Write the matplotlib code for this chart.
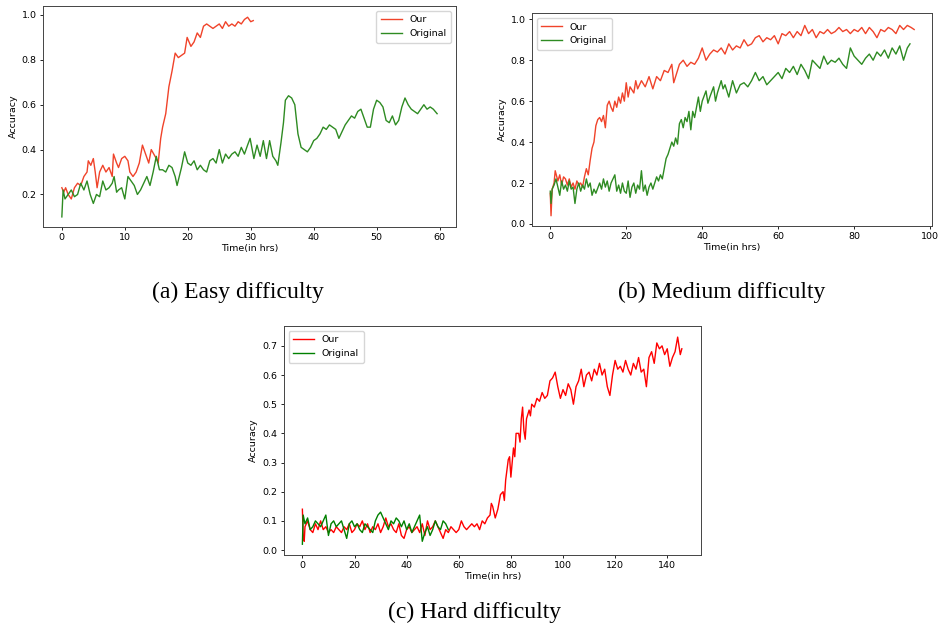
import numpy as np
import matplotlib
matplotlib.use('Agg')
import matplotlib.pyplot as plt

# (a) easy difficulty
easy_our_t = [0, 0.3, 0.6, 1, 1.5, 2, 2.5, 3, 3.5, 4, 4.2, 4.6, 5, 5.3, 5.6, 6, 6.5, 7, 7.5, 8,
              8.2, 8.7, 9, 9.5, 10, 10.5, 10.8, 11.3, 11.8, 12.3, 12.8, 13.3, 13.8, 14.2, 14.6, 15,
              15.3, 15.7, 16, 16.5, 17, 17.5, 18, 18.5, 19, 19.5, 19.9, 20.5, 21, 21.5, 22, 22.5, 23,
              23.5, 24, 24.5, 25, 25.5, 26, 26.5, 27, 27.5, 28, 28.5, 29, 29.5, 30, 30.4]
easy_our_v = [0.23, 0.21, 0.23, 0.20, 0.18, 0.23, 0.25, 0.24, 0.28, 0.30, 0.35, 0.33, 0.36, 0.30, 0.23,
              0.30, 0.33, 0.30, 0.32, 0.28, 0.38, 0.34, 0.32, 0.36, 0.37, 0.35, 0.30, 0.28, 0.30, 0.34,
              0.42, 0.38, 0.34, 0.40, 0.38, 0.36, 0.34, 0.45, 0.50, 0.56, 0.68, 0.75, 0.83, 0.81, 0.82,
              0.83, 0.90, 0.86, 0.88, 0.92, 0.90, 0.95, 0.96, 0.95, 0.94, 0.95, 0.96, 0.94, 0.97, 0.95,
              0.96, 0.95, 0.97, 0.96, 0.98, 0.99, 0.97, 0.975]
easy_orig_t = [0, 0.2, 0.5, 1, 1.5, 2, 2.5, 3, 3.5, 4, 4.5, 5, 5.5, 6, 6.5, 7, 7.5, 8, 8.3, 8.7, 9,
               9.5, 10, 10.5, 11, 11.5, 12, 12.5, 13, 13.5, 14, 14.5, 15, 15.5, 16, 16.5, 17, 17.5,
               18, 18.3, 19, 19.5, 20, 20.5, 21, 21.5, 22, 22.5, 23, 23.5, 24, 24.5, 25, 25.5, 26,
               26.5, 27, 27.5, 28, 28.5, 29, 29.5, 29.9, 30.5, 31, 31.5, 32, 32.5, 33, 33.5, 34, 34.3,
               34.8, 35.2, 35.5, 36, 36.5, 37, 37.5, 38, 38.5, 39, 39.5, 40, 40.5, 41, 41.5, 42, 42.5,
               43, 43.5, 44, 44.5, 45, 45.5, 46, 46.5, 47, 47.5, 48, 48.5, 49, 49.5, 50, 50.5, 51,
               51.5, 52, 52.5, 53, 53.5, 54, 54.5, 55, 55.5, 56, 56.5, 57, 57.5, 58, 58.5, 59, 59.6]
easy_orig_v = [0.10, 0.22, 0.18, 0.20, 0.22, 0.19, 0.20, 0.25, 0.22, 0.26, 0.20, 0.16, 0.20, 0.19, 0.26,
               0.22, 0.23, 0.25, 0.28, 0.21, 0.22, 0.23, 0.18, 0.28, 0.26, 0.24, 0.20, 0.22, 0.25, 0.28,
               0.24, 0.30, 0.37, 0.31, 0.31, 0.30, 0.33, 0.32, 0.28, 0.24, 0.32, 0.39, 0.34, 0.33, 0.35,
               0.31, 0.33, 0.31, 0.30, 0.35, 0.36, 0.34, 0.40, 0.34, 0.38, 0.36, 0.38, 0.39, 0.37, 0.41,
               0.38, 0.42, 0.45, 0.36, 0.42, 0.37, 0.44, 0.36, 0.44, 0.37, 0.35, 0.33, 0.43, 0.52, 0.62,
               0.64, 0.63, 0.60, 0.47, 0.41, 0.40, 0.39, 0.41, 0.44, 0.45, 0.47, 0.50, 0.49, 0.51, 0.50,
               0.49, 0.45, 0.48, 0.51, 0.53, 0.55, 0.54, 0.57, 0.58, 0.54, 0.50, 0.50, 0.58, 0.62, 0.61,
               0.59, 0.53, 0.52, 0.55, 0.51, 0.53, 0.59, 0.63, 0.60, 0.58, 0.57, 0.56, 0.58, 0.60, 0.58,
               0.59, 0.58, 0.56]

# (b) medium difficulty
med_our_t = [0, 0.2, 0.5, 1, 1.3, 2, 2.5, 3, 3.5, 4, 4.5, 5, 5.5, 6, 6.5, 7, 7.5, 8, 8.5, 9, 9.5,
             10, 10.5, 11, 11.5, 12, 12.5, 13, 13.5, 14, 14.5, 15, 15.5, 16, 16.5, 17, 17.5, 18, 18.5,
             19, 19.5, 20, 20.5, 21, 22, 22.5, 23, 24, 25, 26, 27, 28, 29, 30, 31, 32, 32.5, 34, 35,
             36, 37, 38, 39, 40, 41, 42, 43, 44, 45, 46, 47, 48, 49, 50, 51, 52, 53, 54, 55, 56, 57,
             58, 59, 60, 61, 62, 63, 64, 65, 66, 67, 68, 69, 70, 71, 72, 73, 74, 75, 76, 77, 78, 79,
             80, 81, 82, 83, 84, 85, 86, 87, 88, 89, 90, 91, 92, 93, 94, 95, 95.8]
med_our_v = [0.15, 0.04, 0.17, 0.20, 0.26, 0.21, 0.24, 0.19, 0.23, 0.22, 0.19, 0.22, 0.18, 0.20, 0.17,
             0.21, 0.19, 0.20, 0.18, 0.23, 0.27, 0.24, 0.31, 0.37, 0.40, 0.48, 0.51, 0.52, 0.50, 0.53,
             0.47, 0.58, 0.60, 0.57, 0.55, 0.60, 0.57, 0.62, 0.59, 0.64, 0.60, 0.69, 0.62, 0.67, 0.64,
             0.70, 0.66, 0.70, 0.67, 0.72, 0.66, 0.72, 0.70, 0.75, 0.74, 0.78, 0.69, 0.78, 0.80, 0.77,
             0.79, 0.78, 0.81, 0.86, 0.80, 0.83, 0.85, 0.84, 0.86, 0.83, 0.88, 0.85, 0.87, 0.86, 0.90,
             0.87, 0.88, 0.91, 0.92, 0.89, 0.91, 0.90, 0.92, 0.88, 0.93, 0.92, 0.94, 0.91, 0.94, 0.92,
             0.97, 0.93, 0.95, 0.91, 0.94, 0.93, 0.95, 0.93, 0.94, 0.96, 0.94, 0.95, 0.93, 0.95, 0.94,
             0.96, 0.93, 0.96, 0.94, 0.91, 0.95, 0.94, 0.96, 0.95, 0.93, 0.97, 0.95, 0.97, 0.96, 0.95]
med_orig_t = [0, 0.2, 0.5, 1, 1.5, 2, 2.5, 3, 3.5, 4, 4.5, 5, 5.5, 6, 6.5, 7, 7.5, 8, 8.5, 9, 9.5,
              10, 10.5, 11, 11.5, 12, 13, 13.5, 14, 14.5, 15, 15.5, 16, 17, 17.5, 18, 18.5, 19, 19.5,
              20, 20.5, 21, 21.5, 22, 22.5, 23, 23.5, 24, 24.5, 25, 25.5, 26, 26.5, 27, 27.5, 28, 28.5,
              29, 29.5, 30, 30.5, 31, 31.5, 32, 32.5, 33, 33.5, 34, 34.5, 35, 35.5, 36, 36.5, 37, 37.5,
              38, 38.5, 39, 39.5, 40, 41, 41.5, 42, 43, 43.5, 44, 45, 45.5, 46, 47, 48, 49, 50, 51,
              52, 53, 54, 55, 56, 57, 58, 59, 60, 61, 62, 63, 64, 65, 66, 67, 68, 69, 70, 71, 72, 73,
              74, 75, 76, 77, 78, 79, 80, 81, 82, 83, 84, 85, 86, 87, 88, 89, 90, 91, 92, 93, 94, 94.7]
med_orig_v = [0.16, 0.10, 0.17, 0.19, 0.22, 0.18, 0.14, 0.21, 0.17, 0.19, 0.16, 0.21, 0.17, 0.18, 0.10,
              0.17, 0.20, 0.16, 0.19, 0.17, 0.22, 0.18, 0.20, 0.14, 0.17, 0.15, 0.20, 0.17, 0.22, 0.18,
              0.21, 0.16, 0.20, 0.24, 0.16, 0.19, 0.15, 0.20, 0.16, 0.15, 0.21, 0.13, 0.18, 0.20, 0.15,
              0.19, 0.17, 0.26, 0.16, 0.19, 0.14, 0.18, 0.20, 0.17, 0.20, 0.23, 0.21, 0.24, 0.22, 0.27,
              0.32, 0.34, 0.37, 0.40, 0.38, 0.42, 0.39, 0.49, 0.51, 0.47, 0.52, 0.50, 0.55, 0.46, 0.55,
              0.52, 0.57, 0.62, 0.55, 0.60, 0.65, 0.59, 0.62, 0.67, 0.60, 0.64, 0.70, 0.66, 0.68, 0.62,
              0.70, 0.64, 0.68, 0.69, 0.67, 0.70, 0.74, 0.70, 0.72, 0.68, 0.70, 0.72, 0.74, 0.71, 0.76,
              0.74, 0.77, 0.73, 0.78, 0.75, 0.71, 0.80, 0.78, 0.76, 0.82, 0.78, 0.80, 0.79, 0.81, 0.78,
              0.76, 0.86, 0.82, 0.80, 0.78, 0.81, 0.83, 0.80, 0.84, 0.82, 0.85, 0.81, 0.86, 0.83, 0.87,
              0.80, 0.86, 0.88]

# (c) hard difficulty
hard_our_t = [0, 0.3, 0.7] + list(range(1, 72)) + [72, 72.5, 73, 74, 75, 76, 77, 77.5, 78, 79, 79.5,
              80, 81, 81.5, 82, 83, 83.5, 84, 84.5, 85, 85.5, 86, 87, 87.5, 88] + list(range(89, 146)) + [145.6]
hard_our_v = [0.14, 0.05, 0.03, 0.08, 0.10, 0.07, 0.06, 0.09, 0.07, 0.10, 0.07, 0.08, 0.06, 0.07, 0.06,
              0.08, 0.07, 0.06, 0.08, 0.07, 0.09, 0.06, 0.07, 0.09, 0.08, 0.10, 0.07, 0.09, 0.06, 0.08,
              0.07, 0.09, 0.06, 0.08, 0.11, 0.08, 0.09, 0.07, 0.06, 0.09, 0.05, 0.04, 0.07, 0.08, 0.06,
              0.07, 0.08, 0.06, 0.09, 0.05, 0.10, 0.07, 0.08, 0.10, 0.08, 0.06, 0.04, 0.07, 0.06, 0.08,
              0.07, 0.06, 0.07, 0.10, 0.08, 0.07, 0.08, 0.09, 0.08, 0.09, 0.07, 0.10, 0.09, 0.11,
              0.12, 0.16, 0.15, 0.11, 0.14, 0.19, 0.20, 0.17, 0.24, 0.31, 0.32, 0.25, 0.35, 0.32, 0.40,
              0.40, 0.37, 0.45, 0.49, 0.41, 0.38, 0.45, 0.48, 0.46, 0.50,
              0.49, 0.52, 0.51, 0.54, 0.52, 0.53, 0.58, 0.59, 0.61, 0.56, 0.52, 0.55, 0.53, 0.57, 0.55,
              0.50, 0.56, 0.58, 0.62, 0.56, 0.60, 0.61, 0.58, 0.62, 0.60, 0.64, 0.60, 0.62, 0.56, 0.53,
              0.60, 0.65, 0.62, 0.63, 0.61, 0.65, 0.62, 0.60, 0.64, 0.62, 0.66, 0.61, 0.62, 0.56, 0.66,
              0.68, 0.64, 0.71, 0.69, 0.70, 0.67, 0.69, 0.63, 0.66, 0.68, 0.73, 0.67, 0.69]
hard_orig_t = [0, 0.3] + list(range(1, 57))
hard_orig_v = [0.02, 0.12, 0.09, 0.11, 0.07, 0.08, 0.10, 0.09, 0.08, 0.10, 0.12, 0.05, 0.09, 0.10, 0.08,
               0.09, 0.10, 0.07, 0.04, 0.09, 0.10, 0.08, 0.09, 0.07, 0.06, 0.09, 0.08, 0.07, 0.06, 0.10,
               0.12, 0.13, 0.11, 0.09, 0.07, 0.10, 0.09, 0.11, 0.10, 0.08, 0.10, 0.07, 0.09, 0.06, 0.08,
               0.10, 0.12, 0.03, 0.06, 0.08, 0.05, 0.07, 0.10, 0.08, 0.07, 0.10, 0.09, 0.07]

captions = ['(a) Easy difficulty', '(b) Medium difficulty', '(c) Hard difficulty']

fs = 6.8
plt.rcParams['font.size'] = fs
plt.rcParams['axes.linewidth'] = 0.7
plt.rcParams['xtick.major.width'] = 0.6
plt.rcParams['ytick.major.width'] = 0.6
plt.rcParams['xtick.major.size'] = 2.5
plt.rcParams['ytick.major.size'] = 2.5
plt.rcParams['xtick.labelsize'] = fs
plt.rcParams['ytick.labelsize'] = fs

fig = plt.figure(figsize=(9.4, 6.26), dpi=100)

panels = [
    ([0.0457, 0.6374, 0.4394, 0.353], easy_our_t, easy_our_v, easy_orig_t, easy_orig_v,
     '#f0432a', '#2e8b22', 'upper right', (-3.0, 62.6), (0.055, 1.04), [0.2, 0.4, 0.6, 0.8, 1.0]),
    ([0.566, 0.639, 0.4255, 0.340], med_our_t, med_our_v, med_orig_t, med_orig_v,
     '#f0432a', '#2e8b22', 'upper left', (-4.8, 100.5), (-0.01, 1.03), [0.0, 0.2, 0.4, 0.6, 0.8, 1.0]),
    ([0.302, 0.1134, 0.4436, 0.3658], hard_our_t, hard_our_v, hard_orig_t, hard_orig_v,
     '#ff0000', '#008000', 'upper left', (-7.1, 152.9), (-0.017, 0.768), np.arange(0, 0.71, 0.1)),
]

for pos, ot, ov, gt, gv, c_our, c_orig, loc, xl, yl, yt in panels:
    ax = fig.add_axes(pos)
    ax.plot(ot, ov, color=c_our, lw=1.0, label='Our')
    ax.plot(gt, gv, color=c_orig, lw=1.0, label='Original')
    ax.set_xlim(*xl)
    ax.set_ylim(*yl)
    ax.set_yticks(yt)
    ax.set_xlabel('Time(in hrs)', fontsize=fs, labelpad=1.5)
    ax.set_ylabel('Accuracy', fontsize=fs, labelpad=3)
    ax.tick_params(pad=2)
    for s in ax.spines.values():
        s.set_color('#444444')
    ax.legend(loc=loc, fontsize=fs, handlelength=2.2, borderpad=0.5)

fig.text(238 / 940, 1 - 292 / 626, captions[0], ha='center', va='center',
         family='Liberation Serif', fontsize=17)
fig.text(722 / 940, 1 - 292 / 626, captions[1], ha='center', va='center',
         family='Liberation Serif', fontsize=17)
fig.text(475 / 940, 1 - 612 / 626, captions[2], ha='center', va='center',
         family='Liberation Serif', fontsize=17)

fig.savefig('out.png', dpi=100)
